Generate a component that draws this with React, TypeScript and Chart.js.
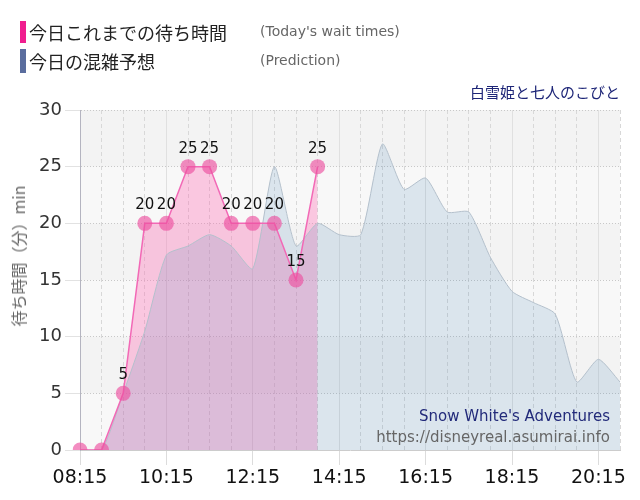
import React, { useEffect, useRef } from 'react';
import { Chart, registerables } from 'chart.js';

Chart.register(...registerables);

const times = [
  '08:15', '08:45', '09:15', '09:45', '10:15', '10:45', '11:15', '11:45', '12:15',
  '12:45', '13:15', '13:45', '14:15', '14:45', '15:15', '15:45', '16:15', '16:45',
  '17:15', '17:45', '18:15', '18:45', '19:15', '19:45', '20:15', '20:45',
];
const todayWait = [0, 0, 5, 20, 20, 25, 25, 20, 20, 20, 15, 25];
const prediction = [
  0, 0, 5, 10.5, 17.2, 18, 19, 18, 16, 25, 18, 20, 19, 19, 27, 23, 24, 21, 21, 17,
  14, 13, 12, 6, 8, 6,
];
const yTicks = [0, 5, 10, 15, 20, 25, 30];

const FONT = '"DejaVu Sans", Verdana, sans-serif';
const CJK = '"Noto Sans CJK JP", sans-serif';

// wait values padded to the full time range
const todaySeries = times.map((_, i) => (i < todayWait.length ? todayWait[i] : null));

// alternating horizontal bands behind the plot
const bandsPlugin = {
  id: 'bands',
  beforeDraw(chart: any) {
    const { ctx, chartArea, scales } = chart;
    const y = scales.y;
    ctx.save();
    ctx.fillStyle = '#f3f3f3';
    ctx.fillRect(chartArea.left, chartArea.top, chartArea.width, chartArea.height);
    for (let k = 0; k < yTicks.length - 1; k++) {
      if (k % 2 === 0) {
        const top = y.getPixelForValue(yTicks[k + 1]);
        const bottom = y.getPixelForValue(yTicks[k]);
        ctx.fillStyle = '#f8f8f8';
        ctx.fillRect(chartArea.left, top, chartArea.width, bottom - top);
      }
    }
    ctx.restore();
  },
};

// value labels above today's points
const valueLabels = {
  id: 'valueLabels',
  afterDatasetsDraw(chart: any) {
    const { ctx } = chart;
    const meta = chart.getDatasetMeta(0);
    ctx.save();
    ctx.font = `15px ${FONT}`;
    ctx.fillStyle = '#111';
    ctx.textAlign = 'center';
    ctx.textBaseline = 'middle';
    meta.data.forEach((pt: any, i: number) => {
      const v = todaySeries[i];
      if (v === null || v === 0) return;
      ctx.fillText(String(v), pt.x, pt.y - 18);
    });
    ctx.restore();
  },
};

const WaitChart: React.FC = () => {
  const canvasRef = useRef<HTMLCanvasElement>(null);
  const chartRef = useRef<Chart | null>(null);

  useEffect(() => {
    if (!canvasRef.current) return;
    if (chartRef.current) chartRef.current.destroy();

    chartRef.current = new Chart(canvasRef.current, {
      type: 'line',
      data: {
        labels: times,
        datasets: [
          {
            label: 'today',
            data: todaySeries,
            borderColor: '#f269b6',
            borderWidth: 1.5,
            tension: 0,
            fill: false,
            pointRadius: 7.5,
            pointBackgroundColor: 'rgba(236, 80, 160, 0.65)',
            pointBorderWidth: 0,
            order: 0,
          },
          {
            label: 'prediction',
            data: prediction,
            borderColor: '#b4c0cc',
            borderWidth: 1,
            backgroundColor: 'rgba(70, 130, 180, 0.16)',
            fill: 'origin',
            tension: 0.2,
            pointRadius: 0,
            order: 1,
          },
          {
            label: 'todayFill',
            data: todaySeries,
            borderWidth: 0,
            borderColor: 'rgba(0,0,0,0)',
            backgroundColor: 'rgba(255, 105, 180, 0.34)',
            fill: 'origin',
            tension: 0,
            pointRadius: 0,
            order: 2,
          },
        ],
      },
      options: {
        responsive: true,
        maintainAspectRatio: false,
        animation: false,
        layout: { padding: { top: 110, right: 20, left: 0, bottom: 0 } },
        plugins: {
          legend: { display: false },
          tooltip: { enabled: false },
        },
        scales: {
          x: {
            type: 'category',
            afterFit: (scale: any) => {
              scale.height = 50;
            },
            ticks: {
              autoSkip: false,
              maxRotation: 0,
              padding: 2,
              color: '#111',
              font: { family: FONT, size: 19 },
              callback: (_v: any, i: number) => (i % 4 === 0 ? times[i] : ''),
            },
            grid: {
              color: (c: any) => (c.index % 4 === 0 ? '#e0e0e0' : '#d8d8d8'),
              tickColor: (c: any) => (c.index % 4 === 0 ? '#dcdcdc' : 'rgba(0,0,0,0)'),
              tickLength: 15,
              tickBorderDash: [],
            },
            border: {
              color: '#cccccc',
              dash: (c: any) => (c.index % 4 === 0 ? [] : [4, 3]),
            },
          },
          y: {
            min: 0,
            max: 30,
            afterFit: (scale: any) => {
              scale.width = 80;
            },
            ticks: {
              stepSize: 5,
              padding: 3,
              color: '#333',
              font: { family: FONT, size: 18 },
            },
            grid: {
              color: '#c8c8c8',
              tickColor: '#e2e2e2',
              tickLength: 15,
              tickBorderDash: [],
            },
            border: { color: '#b4b4c0', dash: [1, 2] },
          },
        },
      },
      plugins: [bandsPlugin, valueLabels],
    });

    return () => {
      if (chartRef.current) {
        chartRef.current.destroy();
        chartRef.current = null;
      }
    };
  }, []);

  const abs = (left: number, top: number): React.CSSProperties => ({
    position: 'absolute',
    left,
    top,
    transform: 'translateY(-50%)',
    whiteSpace: 'nowrap',
    lineHeight: 1,
  });

  return (
    <div style={{ position: 'absolute', left: 0, top: 0, width: 640, height: 500, background: '#fff' }}>
      <canvas ref={canvasRef} />
      <div style={{ position: 'absolute', left: 20, top: 21, width: 6, height: 22, background: '#f01e8f' }} />
      <div style={{ position: 'absolute', left: 20, top: 49, width: 6, height: 24, background: '#5a6d9e' }} />
      <div style={{ ...abs(29, 32), font: `18px ${CJK}`, color: '#222' }}>今日これまでの待ち時間</div>
      <div style={{ ...abs(29, 61), font: `18px ${CJK}`, color: '#222' }}>今日の混雑予想</div>
      <div style={{ ...abs(260, 31), font: `14px ${FONT}`, color: '#666' }}>(Today's wait times)</div>
      <div style={{ ...abs(260, 60), font: `14px ${FONT}`, color: '#666' }}>(Prediction)</div>
      <div style={{ ...abs(0, 91), left: 'auto', right: 20, font: `15px ${CJK}`, color: '#1d2577' }}>
        白雪姫と七人のこびと
      </div>
      <div style={{ ...abs(0, 416), left: 'auto', right: 30, font: `15px ${FONT}`, color: '#222a7a' }}>
        Snow White's Adventures
      </div>
      <div style={{ ...abs(0, 437), left: 'auto', right: 30, font: `15px ${FONT}`, color: '#666' }}>
        https://disneyreal.asumirai.info
      </div>
      <div
        style={{
          position: 'absolute',
          left: 18,
          top: 256,
          transform: 'translate(-50%, -50%) rotate(-90deg)',
          whiteSpace: 'nowrap',
          font: `16px ${CJK}`,
          color: '#666',
          lineHeight: 1,
        }}
      >
        待ち時間（分）min
      </div>
    </div>
  );
};

export default function App() {
  return <WaitChart />;
}
